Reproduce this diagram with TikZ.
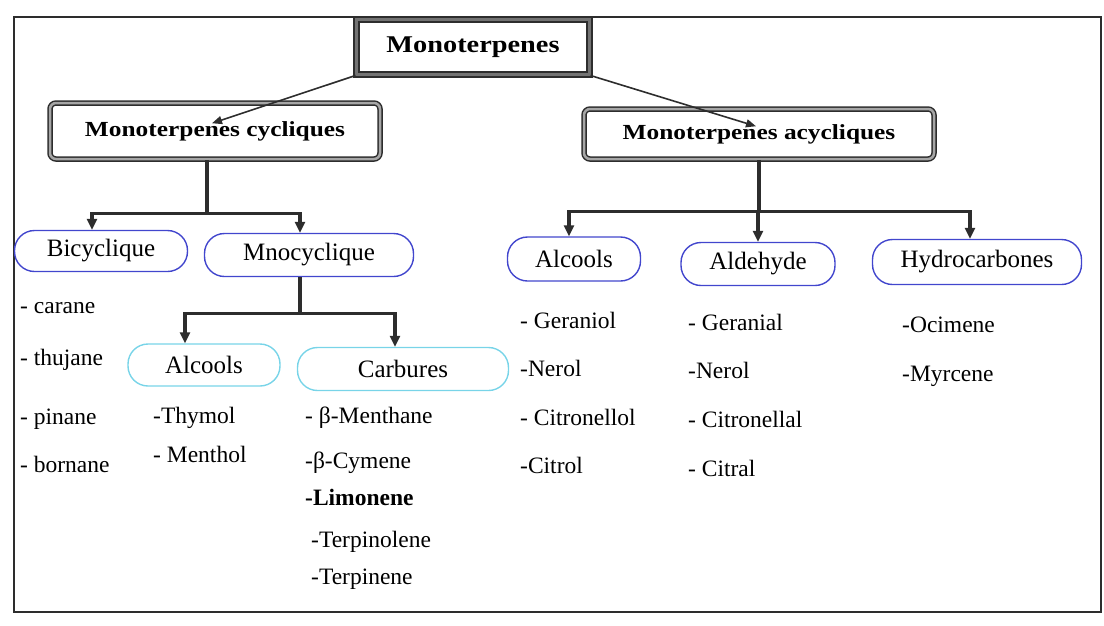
\documentclass[tikz,border=0pt]{standalone}
\usepackage{fontspec}
\setmainfont{Liberation Serif}
\newfontfamily\headfont{Liberation Serif}[FakeStretch=1.18]
\usetikzlibrary{positioning,arrows.meta}

\definecolor{ovalblue}{RGB}{66,70,205}
\definecolor{ovalcyan}{RGB}{120,212,232}
\definecolor{ink}{RGB}{45,45,45}

\tikzset{
  topbox/.style={draw=ink, double=black!55, double distance=3pt, line width=2pt,
    minimum width=233pt, minimum height=55pt,
    font=\headfont\bfseries\fontsize{24}{28}\selectfont},
  head/.style={draw=ink, double=gray!70, double distance=2.5pt, line width=1.5pt,
    rounded corners=6pt, font=\headfont\bfseries\fontsize{21.5}{25}\selectfont},
  oval/.style={draw=ovalblue, line width=1.4pt, rounded corners=20pt,
    font=\fontsize{25}{29}\selectfont},
  coval/.style={oval, draw=ovalcyan},
  item/.style={inner sep=0pt, anchor=base west, font=\fontsize{23.5}{27}\selectfont},
  link/.style={draw=ink, line width=3.2pt},
  arr/.style={link, -{Triangle[length=11pt,width=10pt]}},
  tip/.style={draw=ink, line width=1.6pt, -{Triangle[length=10pt,width=8pt]}}
}

\begin{document}
\begin{tikzpicture}[x=1pt,y=-1pt]
  \useasboundingbox (0,0) rectangle (1104,625);
  \draw[ink, line width=2.5pt] (14,17) rectangle (1101,612);

  % top of the tree
  \node[topbox] (mono) at (473,47) {Monoterpenes};
  \node[head, minimum width=330pt, minimum height=56pt] (cyc) at (215,131) {Monoterpenes cycliques};
  \node[head, minimum width=350pt, minimum height=50pt] (acyc) at (759,134) {Monoterpenes acycliques};

  \node[oval, minimum width=173pt, minimum height=41pt] (bicyc) at (101,251) {Bicyclique};
  \node[oval, minimum width=209pt, minimum height=43pt] (mnocyc) at (309,255) {Mnocyclique};
  \node[coval, minimum width=152pt, minimum height=42pt] (alc_c) at (204,365) {Alcools};
  \node[coval, minimum width=211pt, minimum height=43pt] (carb) at (403,369) {Carbures};
  \node[oval, minimum width=133pt, minimum height=44pt] (alc_a) at (574,259) {Alcools};
  \node[oval, minimum width=154pt, minimum height=43pt] (ald) at (758,264) {Aldehyde};
  \node[oval, minimum width=209pt, minimum height=45pt] (hydro) at (977,262) {Hydrocarbones};

  % lists
  \node[item] (carane) at (20,313) {- carane};
  \node[item, below=52pt of carane.base west, anchor=base west] (thujane) {- thujane};
  \node[item, below=59pt of thujane.base west, anchor=base west] (pinane) {- pinane};
  \node[item, below=48pt of pinane.base west, anchor=base west] (bornane) {- bornane};

  \node[item] (thymol) at (153,423) {-Thymol};
  \node[item, below=39pt of thymol.base west, anchor=base west] (menthol) {- Menthol};

  \node[item] (menthane) at (305,423) {- β-Menthane};
  \node[item, below=45pt of menthane.base west, anchor=base west] (cymene) {-β-Cymene};
  \node[item, below=37pt of cymene.base west, anchor=base west, font=\bfseries\fontsize{23.5}{27}\selectfont] (limonene) {-Limonene};
  \node[item] (terpinolene) at (311,547) {-Terpinolene};
  \node[item, below=37pt of terpinolene.base west, anchor=base west] (terpinene) {-Terpinene};

  \node[item] (geraniol) at (520,328) {- Geraniol};
  \node[item, below=48pt of geraniol.base west, anchor=base west] (nerol_a) {-Nerol};
  \node[item, below=49pt of nerol_a.base west, anchor=base west] (citronellol) {- Citronellol};
  \node[item, below=48pt of citronellol.base west, anchor=base west] (citrol) {-Citrol};

  \node[item] (geranial) at (688,330) {- Geranial};
  \node[item, below=48pt of geranial.base west, anchor=base west] (nerol_b) {-Nerol};
  \node[item, below=49pt of nerol_b.base west, anchor=base west] (citronellal) {- Citronellal};
  \node[item, below=49pt of citronellal.base west, anchor=base west] (citral) {- Citral};

  \node[item] (ocimene) at (902,332) {-Ocimene};
  \node[item, below=49pt of ocimene.base west, anchor=base west] (myrcene) {-Myrcene};

  % connectors
  \draw[tip] (mono.south west) -- ([xshift=-3pt,yshift=-21pt]cyc.north);
  \draw[tip] (mono.south east) -- ([xshift=-3pt,yshift=-18pt]acyc.north);

  \draw[link] ([xshift=-8pt]cyc.south) -- ++(0,54) coordinate (cyc_j);
  \draw[arr] (cyc_j) -| ([xshift=-9pt]bicyc.north);
  \draw[arr] (cyc_j) -| ([xshift=-9pt]mnocyc.north);

  \draw[link] ([xshift=-9pt]mnocyc.south) -- ++(0,36) coordinate (mno_j);
  \draw[arr] (mno_j) -| ([xshift=-19pt]alc_c.north);
  \draw[arr] (mno_j) -| ([xshift=-8pt]carb.north);

  \draw[link] (acyc.south) -- ++(0,52) coordinate (acyc_j);
  \draw[arr] (acyc_j) -| ([xshift=-5pt]alc_a.north);
  \draw[arr] (acyc_j) -| (ald.north);
  \draw[arr] (acyc_j) -| ([xshift=-7pt]hydro.north);
\end{tikzpicture}
\end{document}
